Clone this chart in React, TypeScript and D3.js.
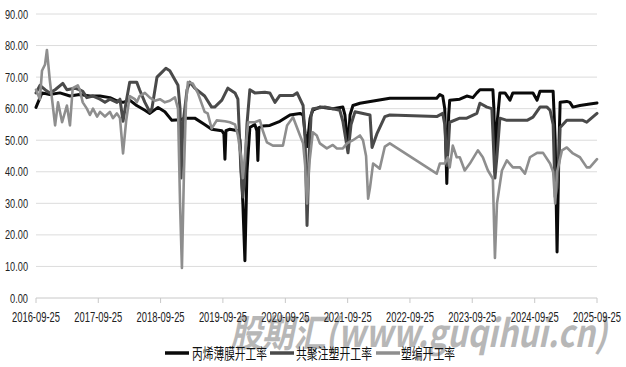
import React from "react";
import * as d3 from "d3";

type Pt = [string, number];

const seriesNames = ["丙烯薄膜开工率", "共聚注塑开工率", "塑编开工率"];
const seriesColors = ["#0a0a0a", "#4a4a4a", "#8e8e8e"];
const seriesWidths = [3, 3, 2.6];

const yTicks = [0, 10, 20, 30, 40, 50, 60, 70, 80, 90];
const xTickLabels = [
  "2016-09-25", "2017-09-25", "2018-09-25", "2019-09-25", "2020-09-25",
  "2021-09-25", "2022-09-25", "2023-09-25", "2024-09-25", "2025-09-25",
];

const ppFilm: Pt[] = [
  ["2016-09-25",60.4],["2016-10-30",65],["2016-12-15",64.5],["2017-02-12",65],["2017-04-12",64],["2017-06-08",64.5],["2017-08-07",64],["2017-10-05",64],["2017-12-02",63.5],["2018-01-12",62.5],["2018-02-17",62],["2018-03-28",62.7],["2018-05-08",61],["2018-06-25",59.5],["2018-07-24",58.5],["2018-09-10",60.4],["2018-10-20",59],["2018-11-30",56.3],["2019-01-17",56.5],["2019-02-15",57],["2019-04-13",57],["2019-06-10",55],["2019-07-21",53.5],["2019-09-19",53],["2019-10-01",52],["2019-10-07",44],["2019-10-13",53],["2019-11-05",53.5],["2019-12-22",53],["2020-01-03",50],["2020-01-20",30],["2020-02-01",11.8],["2020-02-13",40],["2020-03-01",54],["2020-03-30",55],["2020-04-11",53],["2020-04-17",43.6],["2020-04-23",54],["2020-05-16",54.5],["2020-06-26",54.7],["2020-08-24",56],["2020-10-22",58],["2020-12-20",58.5],["2021-01-07",58],["2021-01-19",52],["2021-01-30",48],["2021-02-17",57],["2021-03-05",59.5],["2021-04-15",60.5],["2021-06-30",60],["2021-08-28",60.5],["2021-09-09",58],["2021-09-27",48],["2021-10-09",58],["2021-10-26",61],["2021-12-06",61.7],["2022-03-03",62.5],["2022-05-30",63.3],["2023-03-01",63.3],["2023-03-19",64.5],["2023-04-05",64],["2023-04-17",60],["2023-04-29",36.3],["2023-05-10",58],["2023-05-16",62.7],["2023-07-14",63],["2023-08-24",64],["2023-09-29",63.5],["2023-10-22",65],["2023-11-09",66],["2024-01-24",66],["2024-01-30",60],["2024-02-05",40],["2024-02-17",55],["2024-03-05",65],["2024-04-04",65],["2024-05-03",62.7],["2024-05-20",65],["2024-09-15",65],["2024-10-09",62.7],["2024-10-26",65.5],["2025-01-11",65.5],["2025-01-23",50],["2025-02-03",14.6],["2025-02-15",50],["2025-02-21",62],["2025-04-01",62.3],["2025-04-19",62],["2025-05-07",60.5],["2025-06-17",61],["2025-08-14",61.5],["2025-09-25",61.8],
];

const copolymerInjection: Pt[] = [
  ["2016-09-25",65],["2016-10-18",67.4],["2016-11-17",66],["2016-12-15",65],["2017-01-15",66],["2017-03-01",68],["2017-03-25",66],["2017-05-10",66.5],["2017-06-08",66],["2017-06-26",65.5],["2017-07-20",63.5],["2017-08-25",64],["2017-10-05",63],["2017-11-03",62],["2017-12-02",63],["2018-01-12",62],["2018-01-30",63],["2018-02-17",56],["2018-03-07",62],["2018-03-28",68.4],["2018-05-08",68.4],["2018-05-25",66],["2018-06-25",62],["2018-07-24",59],["2018-08-05",60],["2018-09-04",70],["2018-10-02",71.5],["2018-10-26",72.8],["2018-11-18",72],["2019-01-05",67.4],["2019-01-17",60],["2019-01-23",38],["2019-02-03",55],["2019-02-27",66],["2019-03-15",68.4],["2019-04-13",66.5],["2019-06-10",64],["2019-07-21",60.5],["2019-08-08",60.5],["2019-09-19",62.7],["2019-10-24",66.5],["2019-12-05",65],["2019-12-22",63],["2020-01-09",40],["2020-01-20",32],["2020-02-01",40],["2020-02-13",55],["2020-03-01",66],["2020-03-30",65],["2020-05-28",65.2],["2020-06-26",65],["2020-07-26",62],["2020-08-24",64.2],["2020-11-09",64.2],["2020-12-03",65],["2021-01-07",61],["2021-01-19",50],["2021-01-30",23],["2021-02-11",45],["2021-02-23",58],["2021-03-05",60],["2021-05-14",60.5],["2021-08-10",59.5],["2021-08-28",56],["2021-09-27",46],["2021-10-15",55],["2021-11-07",59],["2022-02-03",58],["2022-02-15",47.7],["2022-03-15",52],["2022-05-01",57.5],["2022-05-30",58],["2023-03-01",57.5],["2023-04-05",58.5],["2023-04-17",55],["2023-04-29",42],["2023-05-10",50],["2023-05-16",55.7],["2023-07-14",57],["2023-08-24",57],["2023-10-22",58.5],["2023-11-09",61.7],["2023-12-20",60.5],["2024-01-18",60],["2024-01-30",45],["2024-02-05",38],["2024-02-17",45],["2024-03-05",57],["2024-04-15",56.3],["2024-08-11",56.3],["2024-09-15",57.3],["2024-10-26",60.5],["2024-12-06",60.5],["2024-12-24",59.5],["2025-01-11",55],["2025-01-23",32],["2025-02-03",35],["2025-02-15",45],["2025-02-21",54],["2025-04-01",56.3],["2025-07-04",56.3],["2025-07-27",55.7],["2025-09-25",58.5],
];

const wovenPlastic: Pt[] = [
  ["2016-09-25",66],["2016-10-18",63],["2016-10-30",72],["2016-11-17",74],["2016-11-28",78.6],["2016-12-15",69],["2017-01-15",54.7],["2017-02-01",62],["2017-02-25",55.7],["2017-03-25",61],["2017-04-12",54.7],["2017-04-28",66.5],["2017-05-28",67.4],["2017-06-08",66],["2017-06-26",62],["2017-07-20",60],["2017-08-07",58],["2017-08-25",60],["2017-09-18",57.5],["2017-10-05",59],["2017-11-03",57.5],["2017-12-02",59],["2017-12-20",57],["2018-01-12",58.5],["2018-01-30",57],["2018-02-17",45.8],["2018-03-07",56],["2018-03-28",64],["2018-04-27",63],["2018-05-08",62],["2018-05-25",64],["2018-06-25",65],["2018-07-24",63.5],["2018-08-22",62.5],["2018-09-21",63],["2018-10-20",62],["2018-11-18",62.5],["2018-12-18",63.6],["2019-01-05",60],["2019-01-17",30],["2019-01-28",9.5],["2019-02-09",40],["2019-02-21",62],["2019-03-04",68.4],["2019-04-01",68],["2019-05-01",65],["2019-06-10",59],["2019-06-28",58.5],["2019-07-21",53.7],["2019-08-20",56.3],["2019-10-07",56],["2019-11-05",55.7],["2019-12-05",55],["2019-12-22",51.5],["2020-01-09",45],["2020-01-20",38],["2020-02-01",45],["2020-02-20",55.7],["2020-03-30",55.7],["2020-04-29",56.3],["2020-05-16",53],["2020-06-09",49.3],["2020-07-14",48.3],["2020-09-11",48.3],["2020-10-05",54.7],["2020-11-09",57.3],["2020-12-20",51.5],["2021-01-07",49],["2021-01-19",42],["2021-01-30",30],["2021-02-11",42],["2021-03-05",52.5],["2021-03-28",51.5],["2021-04-15",49],["2021-05-26",47.4],["2021-06-30",48.5],["2021-07-24",47.4],["2021-08-28",47.4],["2021-09-21",49],["2021-10-26",50],["2021-12-06",51.5],["2021-12-24",50],["2022-01-11",45],["2022-01-23",31.5],["2022-02-03",35],["2022-02-21",42.6],["2022-04-01",41],["2022-05-01",48],["2022-05-30",49],["2023-03-01",39.4],["2023-03-19",42.6],["2023-04-17",42.6],["2023-05-05",44.6],["2023-05-16",41.4],["2023-06-03",48.3],["2023-06-26",44.6],["2023-07-14",44.6],["2023-08-12",40.4],["2023-09-11",42.6],["2023-10-28",46.8],["2023-11-26",44.6],["2023-12-26",40.4],["2024-01-24",37.8],["2024-02-05",12.7],["2024-02-17",30],["2024-03-17",40.4],["2024-04-15",43.6],["2024-05-20",41.4],["2024-07-01",41.4],["2024-07-30",39.4],["2024-08-28",44.6],["2024-10-09",46],["2024-11-13",46],["2024-12-24",42.6],["2025-01-11",40],["2025-01-23",30],["2025-02-03",40],["2025-03-04",46.8],["2025-04-01",47.7],["2025-05-07",45.8],["2025-06-17",44.6],["2025-07-27",41.4],["2025-08-14",41.4],["2025-09-25",44],
];

const allSeries = [ppFilm, copolymerInjection, wovenPlastic];
const watermark = "股期汇(www.guqihui.cn)";

const W = 626;
const H = 367;
const parse = d3.timeParse("%Y-%m-%d");

export default function App() {
  const x = d3
    .scaleTime()
    .domain([parse("2016-09-25")!, parse("2025-09-25")!])
    .range([36, 597]);
  const y = d3.scaleLinear().domain([0, 90]).range([298, 14]);
  const line = d3
    .line<Pt>()
    .x((d) => x(parse(d[0])!))
    .y((d) => y(d[1]));

  const legendItems = [
    { sx: 165, tx: 192, tw: 75 },
    { sx: 270, tx: 296, tw: 76 },
    { sx: 376, tx: 401, tw: 54 },
  ];

  return (
    <svg
      width={W}
      height={H}
      style={{ position: "absolute", left: 0, top: 0, background: "#fff" }}
      fontFamily="'Liberation Sans', Arial, sans-serif"
    >
      <rect width={W} height={H} fill="#fff" />
      {yTicks.map((t) => (
        <g key={t}>
          {t > 0 && (
            <line x1={36} x2={597} y1={y(t)} y2={y(t)} stroke="#dcdcdc" strokeWidth={1} />
          )}
          <text
            x={28}
            y={y(t) + 4.5}
            textAnchor="end"
            fontSize={12}
            fill="#222"
            textLength={t === 0 ? 18 : 23}
            lengthAdjust="spacingAndGlyphs"
          >
            {t.toFixed(2)}
          </text>
        </g>
      ))}
      <line x1={36} x2={597} y1={y(0)} y2={y(0)} stroke="#c8c8c8" strokeWidth={1} />
      {xTickLabels.map((lab) => {
        const px = x(parse(lab)!);
        return (
          <g key={lab}>
            <line x1={px} x2={px} y1={y(0)} y2={y(0) + 5} stroke="#c8c8c8" strokeWidth={1} />
          </g>
        );
      })}
      {allSeries.map((s, i) => (
        <path
          key={i}
          d={line(s) || ""}
          fill="none"
          stroke={seriesColors[i]}
          strokeWidth={seriesWidths[i]}
          strokeLinejoin="round"
          strokeLinecap="round"
        />
      ))}
      <text
        x={230}
        y={347}
        fontSize={38}
        fontWeight="bold"
        fontStyle="italic"
        fill="#9a9a9a"
        opacity={0.7}
        textLength={377}
        lengthAdjust="spacingAndGlyphs"
        fontFamily="'Noto Sans CJK SC', 'DejaVu Sans', sans-serif"
      >
        {watermark}
      </text>
      {xTickLabels.map((lab) => {
        const px = x(parse(lab)!);
        return (
          <text
            key={lab}
            x={px}
            y={322}
            textAnchor="middle"
            fontSize={14.5}
            fill="#222"
            textLength={48}
            lengthAdjust="spacingAndGlyphs"
          >
            {lab}
          </text>
        );
      })}
      {seriesNames.map((n, i) => (
        <g key={n}>
          <line
            x1={legendItems[i].sx}
            x2={legendItems[i].sx + 24}
            y1={353}
            y2={353}
            stroke={seriesColors[i]}
            strokeWidth={3.5}
          />
          <text
            x={legendItems[i].tx}
            y={359}
            fontSize={15}
            fill="#111"
            textLength={legendItems[i].tw}
            lengthAdjust="spacingAndGlyphs"
            fontFamily="'Noto Sans CJK SC', sans-serif"
          >
            {n}
          </text>
        </g>
      ))}
    </svg>
  );
}
